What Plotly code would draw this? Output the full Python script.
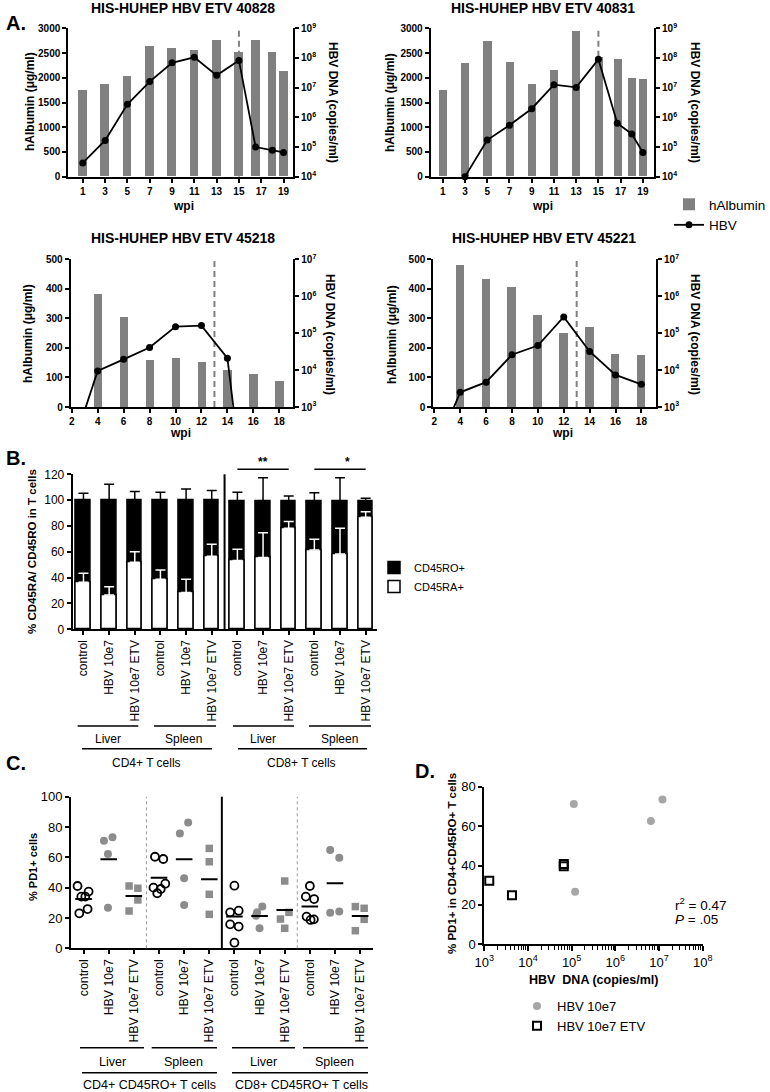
import plotly.graph_objects as go

W, H = 770, 1092
F = "Arial, Liberation Sans, sans-serif"

# ---------------- DATA ----------------
# Panel A
a_titles = ["HIS-HUHEP HBV ETV 40828", "HIS-HUHEP HBV ETV 40831",
            "HIS-HUHEP HBV ETV 45218", "HIS-HUHEP HBV ETV 45221"]
a1_weeks = [1, 3, 5, 7, 9, 11, 13, 15, 16.5, 18, 19]
a1_alb = [1740, 1870, 2030, 2630, 2590, 2550, 2755, 2515, 2750, 2515, 2140]
a1_hbv_weeks = [1, 3, 5, 7, 9, 11, 13, 15, 16.5, 18, 19]
a1_hbv = [2.9e4, 1.66e5, 2.75e6, 1.6e7, 6.9e7, 1.05e8, 2.6e7, 8.3e7, 1.0e5, 7.8e4, 6.6e4]

a2_weeks = [1, 3, 5, 7, 9, 11, 13, 15, 16.7, 18, 19]
a2_alb = [1740, 2300, 2730, 2320, 1870, 2145, 2930, 2420, 2380, 1980, 1975]
a2_hbv_weeks = [3, 5, 7, 9, 11, 13, 15, 16.7, 18, 19]
a2_hbv = [1.0e4, 1.72e5, 5.4e5, 1.95e6, 1.26e7, 1.02e7, 9.0e7, 6.3e5, 2.75e5, 6.6e4]

a3_weeks = [4, 6, 8, 10, 12, 14, 16, 18]
a3_alb = [381, 304, 158, 165, 151, 123, 111, 88]
a3_hbv_weeks = [2, 4, 6, 8, 10, 12, 14, 15]
a3_hbv = [70, 9.5e3, 1.95e4, 4.1e4, 1.5e5, 1.6e5, 2.1e4, 28]

a4_weeks = [4, 6, 8, 10, 12, 14, 16, 18]
a4_alb = [480, 432, 404, 310, 251, 270, 177, 176]
a4_hbv_weeks = [2, 4, 6, 8, 10, 12, 14, 16, 18]
a4_hbv = [55, 2.5e3, 4.7e3, 2.6e4, 4.6e4, 2.75e5, 3.2e4, 7.4e3, 4.1e3]

etv_start_week = [15, 15, 13, 13]

# Panel B
b_labels = ["control", "HBV 10e7", "HBV 10e7 ETV"] * 4
b_total = [100, 100, 100, 100, 100, 100, 99, 99, 99, 99, 99, 99]
b_total_err = [5.3, 12.3, 6.6, 6.1, 8.6, 7.4, 7.1, 18.4, 4.2, 6.8, 18.4, 2.4]
b_ra = [36.4, 26.6, 51.9, 38.7, 28.4, 56.5, 53.2, 55.5, 78.2, 61.4, 58.3, 86.7]
b_ra_err = [7.0, 6.4, 8.2, 7.2, 10.3, 9.3, 8.7, 19.3, 5.2, 8.3, 19.9, 4.4]
b_sig = [(6, 8, 7.0, "**"), (9, 11, 10.3, "*")]

# Panel C (% PD1+ cells); group index 0..11
c_labels = ["control", "HBV 10e7", "HBV 10e7 ETV"] * 4
c_values = [
    [41.1, 37.4, 34.1, 34.1, 25.9, 23.1],
    [71.0, 73.2, 62.2, 26.8],
    [41.1, 39.6, 31.9, 24.6],
    [60.4, 58.9, 40.0, 42.6, 39.1, 36.3],
    [75.8, 82.9, 46.2, 28.6],
    [65.9, 57.1, 35.6, 22.4],
    [41.3, 23.7, 24.8, 15.8, 14.3, 3.7],
    [23.7, 27.5, 13.2, 21.5],
    [44.4, 23.7, 19.3, 13.2],
    [41.1, 34.1, 32.5, 20.9, 18.7, 19.1],
    [64.8, 59.8, 23.5, 24.2],
    [27.5, 26.4, 19.1, 11.6],
]
c_jitter = [
    [-0.24, 0.2, -0.09, 0.07, 0.16, -0.17],
    [-0.19, 0.15, -0.03, -0.03],
    [-0.19, 0.16, 0.16, -0.19],
    [-0.16, 0.17, -0.22, 0.25, 0.07, -0.07],
    [-0.17, 0.16, 0.0, 0.0],
    [0.0, 0.0, 0.0, 0.0],
    [0.0, -0.17, 0.17, -0.17, 0.17, 0.0],
    [-0.1, 0.11, 0.0, -0.14],
    [0.0, 0.17, -0.17, 0.0],
    [0.0, -0.16, 0.17, -0.13, 0.03, 0.16],
    [-0.19, 0.17, -0.19, 0.17],
    [-0.19, 0.16, 0.16, -0.19],
]
c_means = [32.5, 58.7, 34.5, 46.6, 58.7, 45.5, 20.9, 21.3, 25.2, 27.5, 42.9, 21.3]
c_kind = ["control", "hbv", "etv"] * 4

# Panel D
d_hbv_dna = [1.12e5, 1.2e7, 6.5e6, 1.2e5]
d_hbv_pd1 = [71.2, 73.5, 62.6, 26.7]
d_etv_dna = [1.3e3, 4.3e3, 6.6e4, 6.6e4]
d_etv_pd1 = [32.3, 24.9, 40.7, 39.6]

# ---------------- HELPERS ----------------
def xd(x0, x1):
    return [x0 / W, x1 / W]

def yd(y0, y1):
    return [1 - y1 / H, 1 - y0 / H]

def px(x):
    return x / W

def py(y):
    return 1 - y / H

def axc(**kw):
    d = dict(showline=True, linecolor="black", linewidth=2, ticks="outside",
             ticklen=4, tickwidth=1.5, tickcolor="black", showgrid=False,
             zeroline=False, mirror=False, automargin=False)
    d.update(kw)
    return d

BOLD10 = dict(family=F, size=10, color="black", weight="bold")

fig = go.Figure()
layout = {}
annotations = []
shapes = []

def ann(text, x, y, size=12, bold=False, angle=0, xanchor="center"):
    annotations.append(dict(text=text, x=px(x), y=py(y), xref="paper", yref="paper",
                            showarrow=False, textangle=angle, xanchor=xanchor,
                            yanchor="middle",
                            font=dict(family=F, size=size, color="black",
                                      weight="bold" if bold else "normal")))

def hline(x0, x1, y, width=1.5):
    shapes.append(dict(type="line", xref="paper", yref="paper", x0=px(x0), x1=px(x1),
                       y0=py(y), y1=py(y), line=dict(color="black", width=width)))

# ---------------- PANEL A ----------------
a_data = [(a1_weeks, a1_alb, a1_hbv_weeks, a1_hbv),
          (a2_weeks, a2_alb, a2_hbv_weeks, a2_hbv),
          (a3_weeks, a3_alb, a3_hbv_weeks, a3_hbv),
          (a4_weeks, a4_alb, a4_hbv_weeks, a4_hbv)]
a_boxes = [(68.3, 293, 28.3, 176.7), (430.7, 654, 28.3, 176.7),
           (70.7, 293.3, 259.3, 407), (433.3, 656, 259.3, 407)]
a_xrange = [[-0.3, 19.85], [-0.08, 20.0], [1.92, 19.08], [1.92, 19.13]]
a_xticks = [list(range(1, 20, 2))] * 2 + [list(range(2, 19, 2))] * 2
a_ymax = [3000, 3000, 500, 500]
a_ydtick = [500, 500, 100, 100]
a_logrange = [[4, 9], [4, 9], [3, 7], [3, 7]]
a_barw = [0.78, 0.72, 0.65, 0.65]
a_title_pos = [(183, 8), (543, 8), (183, 238), (544, 238)]
a_ltitle = [(30, 102), (390, 102), (28, 334), (392, 334)]
a_rtitle = [(333, 102), (695, 102), (330, 334), (695, 334)]
a_wpi = [(183, 206), (542, 206), (180, 433), (562, 433)]

for i, (wk, alb, hw, hv) in enumerate(a_data):
    xa = "x" if i == 0 else f"x{i+1}"
    yl = "y" if i == 0 else f"y{2*i+1}"
    yr = f"y{2*i+2}"
    x0, x1, y0, y1 = a_boxes[i]
    fig.add_trace(go.Bar(x=wk, y=alb, xaxis=xa, yaxis=yl, width=a_barw[i],
                         marker=dict(color="#808080", line=dict(width=0)),
                         name="hAlbumin", showlegend=(i == 0), legend="legend"))
    fig.add_trace(go.Scatter(x=[etv_start_week[i]] * 2, y=[0, a_ymax[i]],
                             xaxis=xa, yaxis=yl, mode="lines",
                             line=dict(color="#808080", width=2, dash="6px,4px"),
                             showlegend=False, hoverinfo="skip"))
    fig.add_trace(go.Scatter(x=hw, y=hv, xaxis=xa, yaxis=yr, mode="lines+markers",
                             line=dict(color="black", width=1.8),
                             marker=dict(color="black", size=7),
                             cliponaxis=(i >= 2),
                             name="HBV", showlegend=(i == 0), legend="legend"))
    lo, hi = a_logrange[i]
    tv = [10 ** k for k in range(lo, hi + 1)]
    tt = [f"10<sup>{k}</sup>" for k in range(lo, hi + 1)]
    layout["xaxis" if i == 0 else f"xaxis{i+1}"] = axc(
        domain=xd(x0, x1), anchor=yl, range=a_xrange[i], tickvals=a_xticks[i],
        tickfont=BOLD10)
    layout["yaxis" if i == 0 else f"yaxis{2*i+1}"] = axc(
        domain=yd(y0, y1), anchor=xa, range=[0, a_ymax[i]], dtick=a_ydtick[i],
        tickfont=BOLD10)
    layout[f"yaxis{2*i+2}"] = axc(
        overlaying=yl, side="right", anchor=xa, type="log", range=[lo, hi],
        tickvals=tv, ticktext=tt, tickfont=BOLD10)
    ann(a_titles[i], *a_title_pos[i], size=14, bold=True)
    ann("hAlbumin (\u03bcg/ml)", *a_ltitle[i], size=12, bold=True, angle=-90)
    ann("HBV DNA (copies/ml)", *a_rtitle[i], size=12, bold=True, angle=90)
    ann("wpi", *a_wpi[i], size=12, bold=True)

ann("A.", 4, 23, size=20, bold=True, xanchor="left")

# ---------------- PANEL B ----------------
bx = list(range(12))
fig.add_trace(go.Bar(x=bx, y=b_total, xaxis="x5", yaxis="y9", width=0.57,
                     marker=dict(color="black", line=dict(color="black", width=1.5)),
                     error_y=dict(type="data", array=b_total_err, symmetric=False,
                                  arrayminus=[0] * 12, color="black", thickness=1.5, width=5),
                     name="CD45RO+", legend="legend2"))
fig.add_trace(go.Bar(x=bx, y=b_ra, xaxis="x5", yaxis="y9", width=0.57,
                     marker=dict(color="white", line=dict(color="black", width=1.5)),
                     error_y=dict(type="data", array=b_ra_err, symmetric=False,
                                  arrayminus=[0] * 12, color="white", thickness=1.5, width=5),
                     name="CD45RA+", legend="legend2"))
layout["xaxis5"] = axc(domain=xd(72.7, 376.7), anchor="y9", range=[-0.42, 11.43],
                       tickvals=bx, ticktext=b_labels, tickangle=-90,
                       tickfont=dict(family=F, size=12, color="black"))
layout["yaxis9"] = axc(domain=yd(474.3, 629.3), anchor="x5", range=[0, 120], dtick=20,
                       tickfont=dict(family=F, size=12, color="black"))
shapes.append(dict(type="line", xref="x5", yref="y9 domain", x0=5.5, x1=5.5, y0=0, y1=1,
                   line=dict(color="black", width=2)))
for (g0, g1, sx, txt) in b_sig:
    shapes.append(dict(type="line", xref="x5", yref="paper", x0=g0, x1=g1,
                       y0=py(469.3), y1=py(469.3), line=dict(color="black", width=1.5)))
    annotations.append(dict(text=txt, x=sx, y=py(462),
                            xref="x5", yref="paper", showarrow=False, yanchor="middle",
                            font=dict(family=F, size=12, color="black", weight="bold")))
ann("% CD45RA/ CD45RO in T cells", 32, 552, size=11.5, bold=True, angle=-90)
for (a, b) in [(77.7, 138.3), (154, 216), (233, 294), (309, 371)]:
    hline(a, b, 726)
for (t, x) in [("Liver", 108), ("Spleen", 183), ("Liver", 263), ("Spleen", 339)]:
    ann(t, x, 738.5, size=12)
hline(82, 212, 748.7)
hline(238, 367, 748.7)
ann("CD4+ T cells", 146, 763, size=12)
ann("CD8+ T cells", 301, 763, size=12)
ann("B.", 4, 458, size=20, bold=True, xanchor="left")

# ---------------- PANEL C ----------------
styles = {
    "control": dict(symbol="circle-open", color="black", size=8, line=dict(width=1.8, color="black")),
    "hbv": dict(symbol="circle", color="#8c8c8c", size=8, line=dict(width=0)),
    "etv": dict(symbol="square", color="#8c8c8c", size=7.5, line=dict(width=0)),
}
for g, vals in enumerate(c_values):
    xs = [g + j for j in c_jitter[g]]
    fig.add_trace(go.Scatter(x=xs, y=vals, xaxis="x6", yaxis="y10", mode="markers",
                             marker=styles[c_kind[g]], showlegend=False, cliponaxis=False))
mx, my = [], []
for g, m in enumerate(c_means):
    mx += [g - 0.33, g + 0.33, None]
    my += [m, m, None]
fig.add_trace(go.Scatter(x=mx, y=my, xaxis="x6", yaxis="y10", mode="lines",
                         line=dict(color="black", width=2), showlegend=False))
layout["xaxis6"] = axc(domain=xd(71, 372.7), anchor="y10", range=[-0.5, 11.5],
                       tickvals=list(range(12)), ticktext=c_labels, tickangle=-90,
                       tickfont=dict(family=F, size=12.3, color="black"))
layout["yaxis10"] = axc(domain=yd(796.7, 948.3), anchor="x6", range=[0, 100], dtick=20,
                        tickfont=dict(family=F, size=13, color="black"))
shapes.append(dict(type="line", xref="x6", yref="y10 domain", x0=5.5, x1=5.5, y0=0, y1=1,
                   line=dict(color="black", width=2)))
for xv in [2.5, 8.5]:
    shapes.append(dict(type="line", xref="x6", yref="y10 domain", x0=xv, x1=xv, y0=0, y1=1,
                       line=dict(color="#999999", width=1, dash="dot")))
ann("% PD1+ cells", 33, 867, size=11, bold=True, angle=-90)
for (a, b) in [(80, 144), (151.7, 217), (232, 295), (303, 368)]:
    hline(a, b, 1047.7)
for (t, x) in [("Liver", 112), ("Spleen", 183), ("Liver", 263), ("Spleen", 334)]:
    ann(t, x, 1061.7, size=12.5)
hline(82, 217, 1072.7)
hline(232, 368, 1072.7)
ann("CD4+ CD45RO+ T cells", 149, 1084.5, size=12.5)
ann("CD8+ CD45RO+ T cells", 301, 1084.5, size=12.5)
ann("C.", 4, 763, size=20, bold=True, xanchor="left")

# ---------------- PANEL D ----------------
fig.add_trace(go.Scatter(x=d_hbv_dna, y=d_hbv_pd1, xaxis="x7", yaxis="y11", mode="markers",
                         marker=dict(symbol="circle", color="#a6a6a6", size=8),
                         name="HBV 10e7", legend="legend3", cliponaxis=False))
fig.add_trace(go.Scatter(x=d_etv_dna, y=d_etv_pd1, xaxis="x7", yaxis="y11", mode="markers",
                         marker=dict(symbol="square-open", color="black", size=8,
                                     line=dict(width=2, color="black")),
                         name="HBV 10e7 ETV", legend="legend3", cliponaxis=False))
minor_vals = [k * 10 ** e for e in range(3, 8) for k in range(2, 10)]
layout["xaxis7"] = axc(domain=xd(484.3, 702.7), anchor="y11", type="log", range=[3, 8],
                       tickvals=[10 ** k for k in range(3, 9)],
                       ticktext=[f"10<sup>{k}</sup>" for k in range(3, 9)],
                       ticklen=5, tickfont=dict(family=F, size=13, color="black"),
                       minor=dict(tickmode="array", tickvals=minor_vals, ticks="outside",
                                  ticklen=3.5, tickwidth=1.2, tickcolor="black", showgrid=False))
layout["yaxis11"] = axc(domain=yd(786.7, 944.3), anchor="x7", range=[0, 80], dtick=20,
                        tickfont=dict(family=F, size=13, color="black"))
ann("% PD1+ in CD4+CD45RO+ T cells", 452, 864, size=11.5, bold=True, angle=-90)
ann("HBV  DNA (copies/ml)", 593, 980, size=12.5, bold=True)
ann("r<sup>2</sup> = 0.47", 673, 904, size=13.5, xanchor="left")
ann("<i>P</i> = .05", 673, 919, size=13.5, xanchor="left")
ann("D.", 413, 771, size=20, bold=True, xanchor="left")

# ---------------- LAYOUT ----------------
layout.update(
    template="none",
    width=W, height=H, margin=dict(l=0, r=0, t=0, b=0, autoexpand=False),
    paper_bgcolor="white", plot_bgcolor="white",
    font=dict(family=F, color="black"),
    barmode="overlay", bargap=0,
    annotations=annotations, shapes=shapes,
    legend=dict(x=px(669), y=py(189), xanchor="left", yanchor="top",
                font=dict(family=F, size=13.5, color="black"), bgcolor="rgba(0,0,0,0)",
                borderwidth=0, tracegroupgap=0),
    legend2=dict(x=px(374), y=py(553), xanchor="left", yanchor="top",
                 font=dict(family=F, size=11, color="black"), bgcolor="rgba(0,0,0,0)",
                 borderwidth=0),
    legend3=dict(x=px(517), y=py(991), xanchor="left", yanchor="top",
                 font=dict(family=F, size=13, color="black"), bgcolor="rgba(0,0,0,0)",
                 borderwidth=0),
    showlegend=True,
)
fig.update_layout(**layout)
fig.write_html("out.html",
               config={"displayModeBar": False},
               post_script="document.body.style.margin='0px';document.body.style.overflow='hidden';")
